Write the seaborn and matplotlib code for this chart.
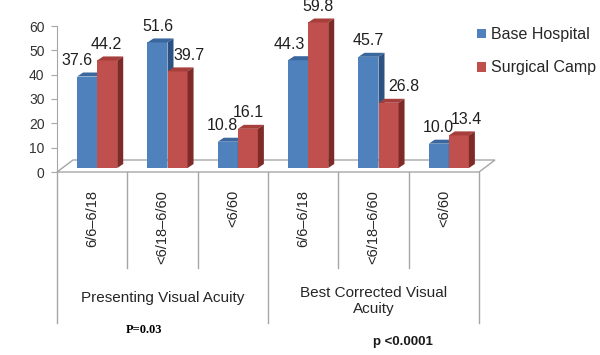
import matplotlib
matplotlib.use('Agg')
import matplotlib.pyplot as plt
import seaborn as sns
import pandas as pd
from matplotlib.patches import Polygon, Patch
from matplotlib import transforms as mtrans

# ---- data ----
groups = ['Presenting Visual Acuity', 'Best Corrected Visual\nAcuity']
categories = ['6/6–6/18', '<6/18–6/60', '<6/60', '6/6–6/18', '<6/18–6/60', '<6/60']
category_group = [0, 0, 0, 1, 1, 1]
series = ['Base Hospital', 'Surgical Camp']
base_hospital = [37.6, 51.6, 10.8, 44.3, 45.7, 10.0]
surgical_camp = [44.2, 39.7, 16.1, 59.8, 26.8, 13.4]
y_ticks = [0, 10, 20, 30, 40, 50, 60]
p_presenting = 'P=0.03'
p_best = 'p <0.0001'

keys = [f'{g}|{c}|{i}' for i, (g, c) in enumerate(zip(category_group, categories))]
df = pd.DataFrame({
    'key': keys * 2,
    'series': [series[0]] * 6 + [series[1]] * 6,
    'value': base_hospital + surgical_camp,
})

# ---- style ----
W, H = 600, 355
font = 'Liberation Sans'
plt.rcParams['font.family'] = [font, 'DejaVu Sans']
front_cols = ['#4F81BD', '#C0504D']
top_cols = ['#3A679E', '#A63E3B']
side_cols = ['#2B5283', '#7E2A27']
grey = '#A6A6A6'
txt = '#1F1F1F'

fig = plt.figure(figsize=(W / 100, H / 100), dpi=100)
ax = fig.add_axes([57 / W, 1 - 172 / H, (479 - 57) / W, (172 - 26) / H])

sns.barplot(data=df, x='key', y='value', hue='series', order=keys, hue_order=series,
            palette=front_cols, width=0.57, saturation=1, linewidth=0, legend=False, ax=ax)

ax.set_xlim(-0.5, 5.5)
ax.set_ylim(0, 60)
ax.set_xlabel('')
ax.set_ylabel('')

sx = ax.bbox.width / 6.0
sy = ax.bbox.height / 60.0
shift = mtrans.offset_copy(ax.transData, fig=fig, x=5, y=4, units='dots')
ddx, ddy = 6 / sx, 4 / sy

# floor
fdx, fdy = 16 / sx, 12 / sy
floor = Polygon([(-0.5, 0), (5.5, 0), (5.5 + fdx, fdy), (-0.5 + fdx, fdy)], closed=True,
                facecolor='white', edgecolor=grey, lw=1, zorder=1, clip_on=False)
ax.add_patch(floor)

nudges = [[-10, 0, -5, -9, 0, 0], [-1, 11, 0, 0, 15, 8]]
for si, cont in enumerate(ax.containers):
    z = 3 + si
    for bi, bar in enumerate(cont):
        bar.set_transform(shift)
        bar.set_zorder(z)
        bar.set_clip_on(False)
        x0, w, h = bar.get_x(), bar.get_width(), bar.get_height()
        top = Polygon([(x0, h), (x0 + w, h), (x0 + w + ddx, h + ddy), (x0 + ddx, h + ddy)],
                      closed=True, facecolor=top_cols[si], edgecolor='none', transform=shift,
                      zorder=z, clip_on=False)
        side = Polygon([(x0 + w, 0), (x0 + w + ddx, ddy), (x0 + w + ddx, h + ddy), (x0 + w, h)],
                       closed=True, facecolor=side_cols[si], edgecolor='none', transform=shift,
                       zorder=z, clip_on=False)
        ax.add_patch(top)
        ax.add_patch(side)
        lab_t = mtrans.offset_copy(ax.transData, fig=fig, x=5 + nudges[si][bi], y=4 + 16, units='dots')
        ax.text(x0 + w / 2, h, f'{h:.1f}', transform=lab_t, ha='center', va='center',
                fontsize=11.5, color=txt, zorder=10)

# axes styling
for s in ['top', 'right', 'bottom']:
    ax.spines[s].set_visible(False)
ax.spines['left'].set_color(grey)
ax.set_facecolor('none')
ax.set_yticks(y_ticks)
ax.set_yticklabels([str(v) for v in y_ticks])
ax.tick_params(axis='y', length=4, color=grey, pad=5, labelsize=10, labelcolor='#333333')
ax.set_xticks(range(6))
ax.set_xticklabels(categories, rotation=90, va='top', ha='center')
ax.tick_params(axis='x', length=0, pad=13, labelsize=10.5, labelcolor='#262626')

# lines below axis
ah = ax.bbox.height
xt = ax.get_xaxis_transform()
for b in [-0.5, 0.5, 1.5, 2.5, 3.5, 4.5, 5.5]:
    bottom = 323 if b in (-0.5, 2.5, 5.5) else 268
    ax.plot([b, b], [0, -(bottom - 172) / ah], transform=xt, clip_on=False, color=grey, lw=1)

# group labels
ax.text(1, -(298 - 172) / ah, groups[0], transform=xt, ha='center', va='center',
        fontsize=11, color='#262626')
ax.text(4, -(301 - 172) / ah, groups[1], transform=xt, ha='center', va='center',
        fontsize=11, color='#262626', linespacing=1.15)

fig.text(144 / W, 1 - 330 / H, p_presenting, ha='center', va='center', fontsize=9,
         fontweight='bold', family=['Liberation Serif', 'DejaVu Serif'], color='black')
fig.text(403 / W, 1 - 342 / H, p_best, ha='center', va='center', fontsize=9.5,
         fontweight='bold', color='#1a1a1a')

handles = [Patch(facecolor=c, edgecolor='none') for c in front_cols]
ax.legend(handles, series, loc='upper left', bbox_to_anchor=(477 / W, 1 - 27 / H),
          bbox_transform=fig.transFigure, frameon=False, fontsize=11.5, handlelength=0.55,
          handleheight=0.55, handletextpad=0.35, labelspacing=1.15, borderaxespad=0, borderpad=0,
          labelcolor='#262626')

fig.savefig('out.png', dpi=100)
